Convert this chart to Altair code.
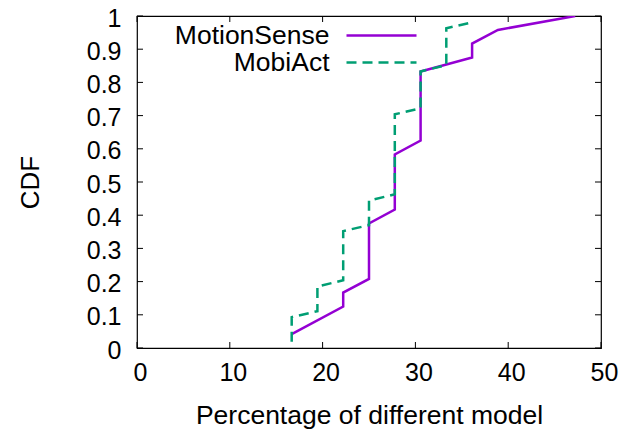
import altair as alt
import pandas as pd

# ---- data ----
series_names = ["MotionSense", "MobiAct"]
series_colors = ["#9400D3", "#009E73"]

ms_x = [16.67, 22.22, 22.22, 25.0, 25.0, 27.78, 27.78, 30.56, 30.56, 36.11, 36.11, 38.89, 47.22]
ms_y = [0.042, 0.125, 0.167, 0.208, 0.375, 0.417, 0.583, 0.625, 0.833, 0.875, 0.917, 0.958, 1.0]

ma_x = [16.67, 16.67, 19.44, 19.44, 22.22, 22.22, 25.0, 25.0, 27.78, 27.78, 30.56, 30.56, 33.33, 33.33, 36.11]
ma_y = [0.019, 0.093, 0.111, 0.185, 0.204, 0.352, 0.370, 0.444, 0.463, 0.704, 0.722, 0.833, 0.852, 0.963, 0.981]

x_ticks = [0, 10, 20, 30, 40, 50]
y_ticks = [0, 0.1, 0.2, 0.3, 0.4, 0.5, 0.6, 0.7, 0.8, 0.9, 1.0]

W, H = 464, 332
FONT = "Liberation Sans"
TICK = 6

ms_df = pd.DataFrame({"x": ms_x, "y": ms_y, "idx": range(len(ms_x))})
ma_df = pd.DataFrame({"x": ma_x, "y": ma_y, "idx": range(len(ma_x))})
xt_df = pd.DataFrame({"x": x_ticks})
yt_df = pd.DataFrame({"y": y_ticks})

xscale = alt.Scale(domain=[0, 50], nice=False, zero=False)
yscale = alt.Scale(domain=[0, 1], nice=False, zero=False)

xaxis = alt.Axis(values=x_ticks, format="d", title="Percentage of different model",
                 ticks=False, domain=False, grid=False, labelPadding=12, labelOffset=3,
                 labelFlush=False,
                 labelFontSize=25, titleFontSize=26.5, labelColor="black", titleColor="black",
                 labelFont=FONT, titleFont=FONT, titleFontWeight="normal",
                 titleX=W / 2, titleY=75, titleBaseline="alphabetic", titleAlign="center")
yaxis = alt.Axis(values=y_ticks, format="~g", title="CDF",
                 ticks=False, domain=False, grid=False, labelPadding=16, labelOffset=2,
                 labelFontSize=25, titleFontSize=26, labelColor="black", titleColor="black",
                 labelFont=FONT, titleFont=FONT, titleFontWeight="normal",
                 titleX=-107, titleY=H / 2, titleAngle=270, titleBaseline="middle",
                 titleAlign="center", labelFlush=False)

X = alt.X("x:Q", scale=xscale, axis=xaxis)
Y = alt.Y("y:Q", scale=yscale, axis=yaxis)

ms_line = alt.Chart(ms_df).mark_line(color=series_colors[0], strokeWidth=2.5, clip=True).encode(
    x=X, y=Y, order="idx:Q")
ma_line = alt.Chart(ma_df).mark_line(color=series_colors[1], strokeWidth=2.5,
                                     strokeDash=[10, 6], clip=True).encode(
    x=X, y=Y, order="idx:Q")

tick_style = dict(color="black", strokeWidth=1)
bottom_ticks = alt.Chart(xt_df).mark_rule(**tick_style).encode(
    x=X, y=alt.value(H), y2=alt.value(H - TICK))
top_ticks = alt.Chart(xt_df).mark_rule(**tick_style).encode(
    x=X, y=alt.value(0), y2=alt.value(TICK))
left_ticks = alt.Chart(yt_df).mark_rule(**tick_style).encode(
    y=Y, x=alt.value(0), x2=alt.value(TICK))
right_ticks = alt.Chart(yt_df).mark_rule(**tick_style).encode(
    y=Y, x=alt.value(W), x2=alt.value(W - TICK))

# ---- legend (gnuplot style: text then sample) ----
leg_df = [pd.DataFrame({"label": [n]}) for n in series_names]
leg_text_x = 192.5
leg_line_x1, leg_line_x2 = 209.5, 279.5
leg_y = [19.5, 46.5]

leg_layers = []
for i in range(2):
    leg_layers.append(
        alt.Chart(leg_df[i]).mark_text(align="right", baseline="middle", fontSize=26.5,
                                       font=FONT, color="black").encode(
            text="label:N", x=alt.value(leg_text_x), y=alt.value(leg_y[i])))
    rule_kwargs = dict(color=series_colors[i], strokeWidth=2.5)
    if i == 1:
        rule_kwargs["strokeDash"] = [10, 6]
    leg_layers.append(
        alt.Chart(leg_df[i]).mark_rule(**rule_kwargs).encode(
            x=alt.value(leg_line_x1), x2=alt.value(leg_line_x2), y=alt.value(leg_y[i])))

chart = alt.layer(
    ms_line, ma_line, bottom_ticks, top_ticks, left_ticks, right_ticks, *leg_layers
).properties(
    width=W, height=H,
    padding={"left": 129, "top": 8, "right": 19, "bottom": 82},
    autosize=alt.AutoSizeParams(type="none"),
    background="white",
).configure_view(stroke="black", strokeWidth=1.2)

chart.save("out.html", embed_options={"renderer": "svg", "actions": False})
